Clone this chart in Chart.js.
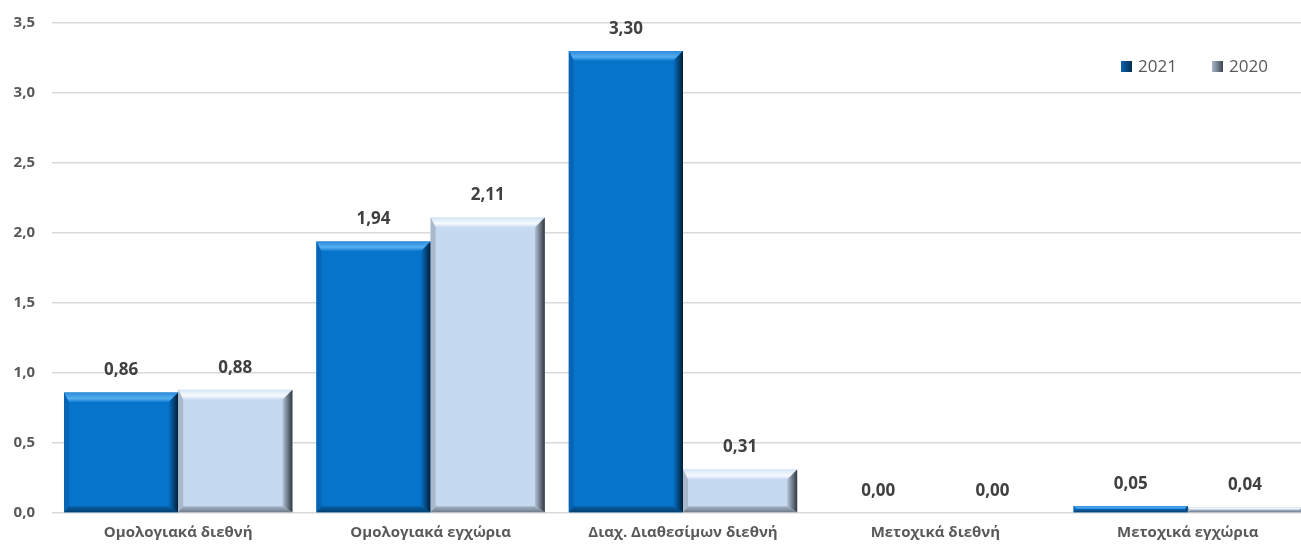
<!DOCTYPE html>
<html><head><meta charset="utf-8">
<script src="https://cdn.jsdelivr.net/npm/chart.js@4.4.1/dist/chart.umd.min.js"></script>
<style>html,body{margin:0;padding:0;background:#fff;overflow:hidden}#wrap{width:1301px;height:548px;position:relative;overflow:hidden}#c{position:absolute;left:0;top:-3px}</style>
</head><body><div id="wrap"><canvas id="c" width="1314" height="551"></canvas></div>
<script>
const categories = ["Ομολογιακά διεθνή","Ομολογιακά εγχώρια","Διαχ. Διαθεσίμων διεθνή","Μετοχικά διεθνή","Μετοχικά εγχώρια"];
const values2021 = [0.86,1.94,3.30,0.00,0.05];
const values2020 = [0.88,2.11,0.31,0.00,0.04];
const seriesNames = ["2021","2020"];
const yTicks = [0,0.5,1,1.5,2,2.5,3,3.5];

const FONT = "'Open Sans', 'Noto Sans', sans-serif";
const styles = [
  {main:'#0774CC', topA:'#2E8BDA', topB:'#55AEF0', left:'#0864B4', rightA:'#0774CC', rightB:'#021E36', bottomA:'#055FA8', bottomB:'#03406F'},
  {main:'#C5D9F0', topA:'#D7E6F7', topB:'#F6FAFE', left:'#A9B9CB', rightA:'#B5C5D8', rightB:'#2F3740', bottomA:'#A6B6C8', bottomB:'#6D7A88'}
];
const fmt = v => v.toFixed(2).replace('.', ',');

const bevelPlugin = {
  id:'bevel',
  afterDatasetsDraw(chart){
    const ctx = chart.ctx;
    chart.data.datasets.forEach((ds,di)=>{
      const meta = chart.getDatasetMeta(di);
      const st = styles[di];
      meta.data.forEach((bar,i)=>{
        const x0 = bar.x - bar.width/2, x1 = bar.x + bar.width/2;
        const y0 = bar.y, y1 = bar.base;
        const h = y1 - y0;
        if (h < 0.5) return;
        const b = Math.min(10, h/2, bar.width/2);
        const bb = Math.min(6, h/2);
        const bl = Math.min(5, h/2);
        ctx.save();
        let g = ctx.createLinearGradient(0,y0,0,y0+b);
        g.addColorStop(0, st.topA); g.addColorStop(0.6, st.topB); g.addColorStop(1, st.main);
        ctx.fillStyle = g;
        ctx.beginPath(); ctx.moveTo(x0,y0); ctx.lineTo(x1,y0); ctx.lineTo(x1-b,y0+b); ctx.lineTo(x0+bl,y0+b); ctx.closePath(); ctx.fill();
        ctx.fillStyle = st.left;
        ctx.beginPath(); ctx.moveTo(x0,y0); ctx.lineTo(x0+bl,y0+b); ctx.lineTo(x0+bl,y1-bb); ctx.lineTo(x0,y1); ctx.closePath(); ctx.fill();
        g = ctx.createLinearGradient(0,y1-bb,0,y1);
        g.addColorStop(0, st.bottomA); g.addColorStop(1, st.bottomB);
        ctx.fillStyle = g;
        ctx.beginPath(); ctx.moveTo(x0,y1); ctx.lineTo(x1,y1); ctx.lineTo(x1-b,y1-bb); ctx.lineTo(x0+bl,y1-bb); ctx.closePath(); ctx.fill();
        g = ctx.createLinearGradient(x1-b,0,x1,0);
        g.addColorStop(0, st.rightA); g.addColorStop(1, st.rightB);
        ctx.fillStyle = g;
        ctx.beginPath(); ctx.moveTo(x1,y0); ctx.lineTo(x1,y1); ctx.lineTo(x1-b,y1-bb); ctx.lineTo(x1-b,y0+b); ctx.closePath(); ctx.fill();
        ctx.restore();
      });
    });
    ctx.save();
    ctx.font = "bold 17px " + FONT;
    ctx.fillStyle = '#404040';
    ctx.textAlign = 'center'; ctx.textBaseline = 'middle';
    chart.data.datasets.forEach((ds,di)=>{
      const meta = chart.getDatasetMeta(di);
      meta.data.forEach((bar,i)=>{
        ctx.fillText(fmt(ds.data[i]), bar.x, bar.y - 22);
      });
    });
    ctx.restore();
    ctx.save();
    ctx.font = "17px " + FONT;
    ctx.textBaseline = 'middle'; ctx.textAlign='left';
    const ly = 69;
    const lx = [1121, 1212];
    seriesNames.forEach((n,k)=>{
      const x = lx[k];
      const g = ctx.createLinearGradient(x,0,x+11,0);
      g.addColorStop(0, k===0? '#0A62AE':'#A9B9CB'); g.addColorStop(1, k===0? '#032E52':'#3E4650');
      ctx.fillStyle = g; ctx.fillRect(x, ly-5, 11, 11);
      ctx.fillStyle = '#595959';
      ctx.fillText(n, x+17, ly+1);
    });
    ctx.restore();
  }
};

new Chart(document.getElementById('c'), {
  type:'bar',
  data:{
    labels: categories,
    datasets:[
      {label:seriesNames[0], data:values2021, backgroundColor:styles[0].main, categoryPercentage:0.905, barPercentage:1},
      {label:seriesNames[1], data:values2020, backgroundColor:styles[1].main, categoryPercentage:0.905, barPercentage:1}
    ]
  },
  options:{
    responsive:false, animation:false,
    layout:{padding:{top:10,right:0,left:0,bottom:0}},
    plugins:{legend:{display:false}, tooltip:{enabled:false}},
    scales:{
      x:{
        grid:{display:false}, border:{display:false},
        ticks:{color:'#595959', font:{family:FONT, size:15, weight:'bold'}, padding:3, maxRotation:0},
        afterFit(s){ s.height = 35; }
      },
      y:{
        min:0, max:3.5,
        afterBuildTicks(s){ s.ticks = yTicks.map(v=>({value:v})); },
        grid:{color:'#D9D9D9', lineWidth:1.5, drawTicks:false},
        border:{display:false},
        ticks:{color:'#595959', font:{family:FONT, size:15, weight:'bold'}, padding:17,
          callback:v=>v.toFixed(1).replace('.',',')},
        afterFit(s){ s.width = 52; }
      }
    }
  },
  plugins:[bevelPlugin]
});
</script></body></html>
